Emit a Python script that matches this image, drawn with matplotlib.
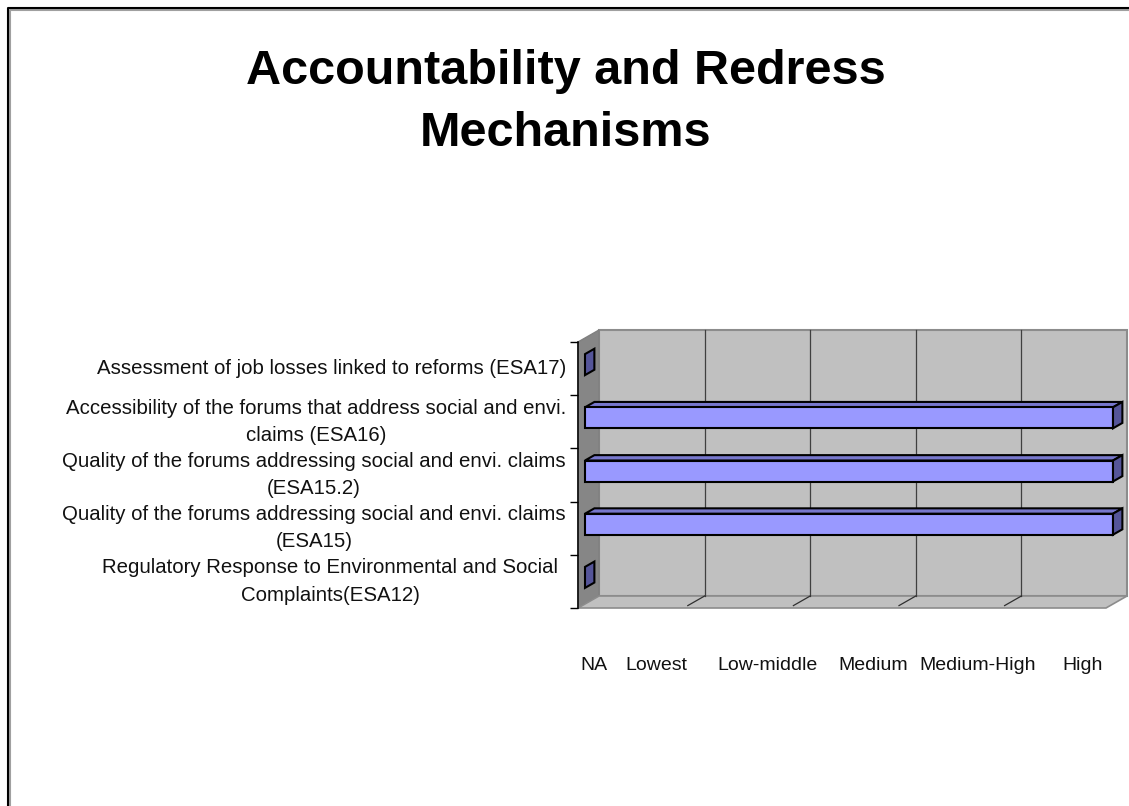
#!/usr/bin/env python
# -*- coding: utf-8 -*-

import matplotlib
matplotlib.use('Agg')
import matplotlib.pyplot as plt
from matplotlib.lines import Line2D
from matplotlib.patches import Polygon

plt.rcParams['font.family'] = ['Liberation Sans', 'DejaVu Sans']

title = 'Accountability and Redress\nMechanisms'
# bottom to top, same as the chart
categories = [
    'Regulatory Response to Environmental and Social\nComplaints(ESA12)',
    'Quality of the forums addressing social and envi. claims\n(ESA15)',
    'Quality of the forums addressing social and envi. claims\n(ESA15.2)',
    'Accessibility of the forums that address social and envi.\nclaims (ESA16)',
    'Assessment of job losses linked to reforms (ESA17)',
]
scores = [0, 5, 5, 5, 0]
score_labels = ['NA', 'Lowest', 'Low-middle', 'Medium', 'Medium-High', 'High']

W, H = 1129, 806
fig = plt.figure(figsize=(W / 100, H / 100), dpi=100, facecolor='white')

# front plane of the fake 3d box
x0, x1, y_top, y_bot = 578, 1106, 342, 608
ax = fig.add_axes([x0 / W, 1 - y_bot / H, (x1 - x0) / W, (y_bot - y_top) / H])
ax.set_xlim(0, 5)
ax.set_ylim(0, 5)
ax.patch.set_visible(False)

# depth of the box in data units (21px right, 12px up)
dep_x = 21 / ((x1 - x0) / 5)
dep_y = 12 / ((y_bot - y_top) / 5)


def pt(x, y, d=0.0):
    return (x + d * dep_x, y + d * dep_y)


def poly(points, face, edge, lw=1.0, z=1):
    ax.add_patch(Polygon(points, closed=True, facecolor=face, edgecolor=edge,
                         linewidth=lw, zorder=z, clip_on=False, joinstyle='miter'))


# walls
poly([pt(0, 0, 1), pt(5, 0, 1), pt(5, 5, 1), pt(0, 5, 1)], '#c0c0c0', '#8c8c8c', 1.5)
poly([pt(0, 0, 0), pt(0, 0, 1), pt(0, 5, 1), pt(0, 5, 0)], '#868686', '#808080', 1.0)
poly([pt(0, 0, 0), pt(5, 0, 0), pt(5, 0, 1), pt(0, 0, 1)], '#c0c0c0', '#8c8c8c', 1.2)

# grid on back wall and floor
for v in range(1, 5):
    ax.plot(*zip(pt(v, 0, 1), pt(v, 5, 1)), color='#404040', lw=0.9, zorder=2, clip_on=False)
    ax.plot(*zip(pt(v, 0, 0.2), pt(v, 0, 1)), color='#303030', lw=0.9, zorder=2, clip_on=False)

# bars
bar_h = 21 / ((y_bot - y_top) / 5)
for i, val in enumerate(scores):
    lo = i + 0.5 - bar_h / 2
    hi = i + 0.5 + bar_h / 2
    d0, d1 = 1 / 3, 0.78
    if val > 0:
        poly([pt(0, hi, d0), pt(val, hi, d0), pt(val, hi, d1), pt(0, hi, d1)],
             '#7777cc', 'black', 1.5, 3)
        poly([pt(0, lo, d0), pt(val, lo, d0), pt(val, hi, d0), pt(0, hi, d0)],
             '#9999ff', 'black', 1.5, 4)
    poly([pt(val, lo, d0), pt(val, lo, d1), pt(val, hi, d1), pt(val, hi, d0)],
         '#555599', 'black', 1.5, 4)

# axes furniture
for name in ['top', 'right', 'bottom']:
    ax.spines[name].set_visible(False)
ax.spines['left'].set_linewidth(1.1)
ax.spines['left'].set_zorder(5)
ax.set_xticks([])
ax.set_yticks(range(6))
ax.set_yticklabels([])
ax.tick_params(axis='y', length=5.8, width=1.0, color='black')

# labels, pixel offsets from the chart's own slightly odd placement
cat_nudge = [-20, -12, -12, -12, -12]
for i, lab in enumerate(categories):
    ax.annotate(lab, (0, i + 0.5), xytext=(cat_nudge[i], 0), textcoords='offset pixels',
                ha='right', va='center', multialignment='center', fontsize=14.7,
                linespacing=1.55, color='#111111', annotation_clip=False)

score_nudge = [16, -27, -22, -22, -23, -23]
for v, lab in enumerate(score_labels):
    ax.annotate(lab, (v, 0), xytext=(score_nudge[v], -58), textcoords='offset pixels',
                ha='center', va='center', fontsize=14, color='#111111',
                annotation_clip=False)

fig.text(566 / W, 1 - 102.5 / H, title, ha='center', va='center', fontsize=35,
         fontweight='bold', linespacing=1.47, color='black')

# slide frame, open to the right and bottom
fig.add_artist(Line2D([9.5 / W, 9.5 / W, 1], [0, 1 - 9.5 / H, 1 - 9.5 / H],
                      color='#a0a0a0', lw=1.5))
fig.add_artist(Line2D([8 / W, 8 / W, 1], [0, 1 - 8 / H, 1 - 8 / H],
                      color='black', lw=1.5))

fig.savefig('out.png', dpi=100, facecolor='white')
